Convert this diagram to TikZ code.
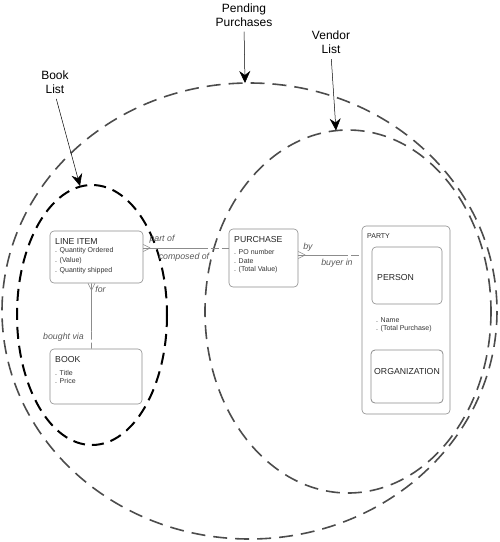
\documentclass[tikz,border=0pt]{standalone}
\usepackage{fontspec}
\setmainfont{Liberation Sans}
\usetikzlibrary{arrows.meta,calc}
\begin{document}
\begin{tikzpicture}[x=1pt,y=-1pt,line join=round,
		entity/.style={draw=black!45,rounded corners=4pt,line width=0.6pt,inner sep=0pt},
		ename/.style={anchor=base west,inner sep=0pt,font=\fontsize{8.7}{10}\selectfont,text=black!85},
		attr/.style={anchor=base west,inner sep=0pt,font=\fontsize{7}{8}\selectfont,text=black!80},
		rel/.style={draw=black!45,line width=0.6pt},
		optional/.style={rel,dash pattern=on 8pt off 3pt},
		role/.style={anchor=base,inner sep=0pt,font=\fontsize{8.8}{10}\selectfont\itshape,text=black!65},
		setline/.style={line width=1.6pt,black!70,dash pattern=on 14pt off 8pt},
		callout/.style={align=center,inner sep=0pt,font=\fontsize{12}{14}\selectfont},
		pointer/.style={line width=0.5pt,shorten <=5pt,-{Stealth[length=12pt,width=11pt,inset=4pt]}}]
	\useasboundingbox (0,0) rectangle (500,542);
	% the three lists
	\draw[setline] (249.5,311) ellipse (247.5 and 228);
	\draw[setline] (348,311.5) ellipse (143 and 181.5);
	\draw[line width=2pt,black,dash pattern=on 12pt off 7pt] (92,315) ellipse (75 and 130);
	\coordinate (ppTop) at (245,83);
	\coordinate (vlTop) at (336,130.5);
	\coordinate (blTop) at (80,186);
	\node[callout] (ppName) at (244,15) {Pending\\Purchases};
	\node[callout] (vlName) at (331,42.5) {Vendor\\List};
	\node[callout] (blName) at (55,82.5) {Book\\List};
	\draw[pointer] (ppName.south) -- (ppTop);
	\draw[pointer] (vlName.south) -- (vlTop);
	\draw[pointer] (blName.south) -- (blTop);
	% entities
	\node[entity,minimum width=93pt,minimum height=52pt] (li) at (96.5,257) {};
	\node[ename] (liName) at (55,244.2) {LINE ITEM};
	\foreach \a [count=\i] in {. Quantity Ordered,. (Value),. Quantity shipped}
		\node[attr] (liA\i) at (55,242.5+10*\i) {\a};
	\node[entity,minimum width=92pt,minimum height=55pt] (bk) at (96,376.5) {};
	\node[ename] (bkName) at (55,362.2) {BOOK};
	\foreach \a [count=\i] in {. Title,. Price}
		\node[attr] (bkA\i) at (55,367.5+8*\i) {\a};
	\node[entity,minimum width=69pt,minimum height=58pt] (pu) at (263.5,258) {};
	\node[ename] (puName) at (234,242.2) {PURCHASE};
	\foreach \a [count=\i] in {. PO number,. Date,. (Total Value)}
		\node[attr] (puA\i) at (234,246+8.5*\i) {\a};
	\node[entity,minimum width=88pt,minimum height=188pt] (pa) at (406,320) {};
	\node[ename,font=\fontsize{7}{8}\selectfont] (paName) at (367,238.5) {PARTY};
	\node[entity,minimum width=70pt,minimum height=57pt] (ps) at (407,275.5) {};
	\node[ename] (psName) at (377,280.2) {PERSON};
	\foreach \a [count=\i] in {. Name,. (Total Purchase)}
		\node[attr] (paA\i) at (376,315+7.5*\i) {\a};
	\node[entity,minimum width=72pt,minimum height=53pt,line width=0.8pt] (og) at (407,376.5) {};
	\node[ename,anchor=base] (ogName) at (407,374.2) {ORGANIZATION};
	% relationships
	\coordinate (liR) at ([yshift=9pt]li.east);
	\coordinate (puL) at (liR -| pu.west);
	\draw[rel] (liR) -- ($(liR)!0.66!(puL)$);
	\draw[optional] ($(liR)!0.66!(puL)$) -- (puL);
	\draw[rel] ([xshift=7pt]liR) -- ([yshift=3.5pt]liR) ([xshift=7pt]liR) -- ([yshift=-3.5pt]liR);
	\coordinate (puR) at ([yshift=3pt]pu.east);
	\coordinate (paL) at (puR -| pa.west);
	\draw[rel] (puR) -- ($(puR)!0.66!(paL)$);
	\draw[optional] ($(puR)!0.66!(paL)$) -- (paL);
	\draw[rel] ([xshift=7pt]puR) -- ([yshift=3.5pt]puR) ([xshift=7pt]puR) -- ([yshift=-3.5pt]puR);
	\coordinate (liB) at ([xshift=-5pt]li.south);
	\coordinate (bkT) at (liB |- bk.north);
	\draw[rel] (liB) -- ($(liB)!0.74!(bkT)$);
	\draw[optional] ($(liB)!0.74!(bkT)$) -- (bkT);
	\draw[rel] ([yshift=-7pt]liB) -- ([xshift=3.5pt]liB) ([yshift=-7pt]liB) -- ([xshift=-3.5pt]liB);
	\node[role] (partOf) at (162,241.5) {part of};
	\node[role] (composedOf) at (184,259.5) {composed of};
	\node[role] (byLbl) at (308,249.5) {by};
	\node[role] (buyerIn) at (337,265.5) {buyer in};
	\node[role] (forLbl) at (100.5,292.5) {for};
	\node[role] (boughtVia) at (63.5,339.5) {bought via};
\end{tikzpicture}
\end{document}
